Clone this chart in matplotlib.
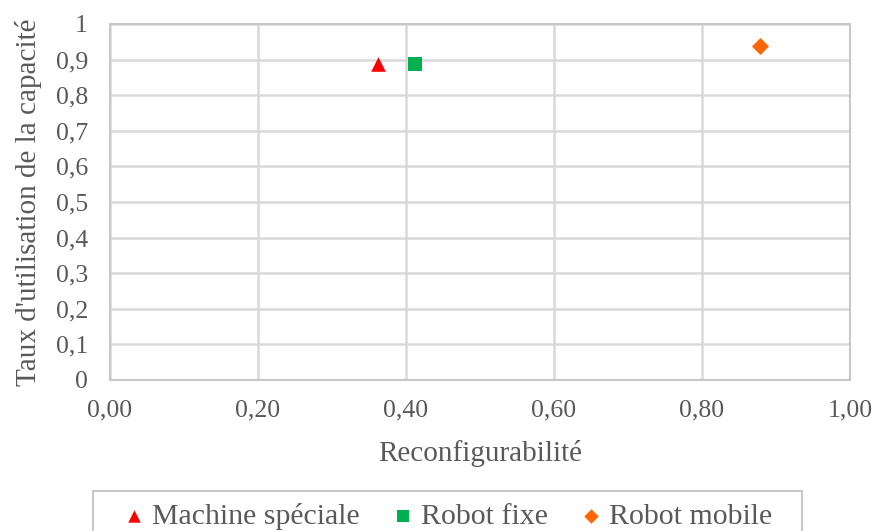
import numpy as np
import matplotlib
matplotlib.use("Agg")
import matplotlib.pyplot as plt
from matplotlib.patches import Rectangle

plt.rcParams["font.family"] = ["Liberation Serif", "DejaVu Serif"]

''' Data '''
series_names = ["Machine spéciale", "Robot fixe", "Robot mobile"]
reconfig = [0.362, 0.412, 0.878]
taux = [0.888, 0.888, 0.938]
colors = ["#ff0000", "#00b050", "#ff6600"]
markers = ["^", "s", "D"]
sizes = [110, 95, 75]

x_ticks = [0.0, 0.2, 0.4, 0.6, 0.8, 1.0]
y_ticks = [0, 0.1, 0.2, 0.3, 0.4, 0.5, 0.6, 0.7, 0.8, 0.9, 1.0]

fig = plt.figure(figsize=(8.75, 5.31), dpi=100)
ax = fig.add_axes([110 / 875, 1 - 380 / 531, 740 / 875, 356 / 531])

for name, x, y, c, m, s in zip(series_names, reconfig, taux, colors, markers, sizes):
    ax.scatter([x], [y], marker=m, s=s, color=c, label=name, zorder=3, linewidths=0)

ax.set_xlim(0, 1)
ax.set_ylim(0, 1)
ax.set_xticks(x_ticks)
ax.set_yticks(y_ticks)
ax.set_xticklabels([f"{v:.2f}".replace(".", ",") for v in x_ticks])
ax.set_yticklabels(["0" if v == 0 else ("1" if v == 1 else f"{v:.1f}".replace(".", ",")) for v in y_ticks])
ax.tick_params(length=0, labelsize=18.5, colors="#595959")
ax.tick_params(axis="y", pad=16)
ax.tick_params(axis="x", pad=14)
ax.grid(True, color="#d9d9d9", linewidth=1.8)
ax.set_axisbelow(True)
for sp in ax.spines.values():
    sp.set_color("#c8c8c8")
    sp.set_linewidth(1.5)

ax.set_xlabel("Reconfigurabilité", fontsize=21, color="#595959", labelpad=13)
ax.set_ylabel("Taux d'utilisation de la capacité", fontsize=21, color="#595959", labelpad=10)

# legend box runs past the bottom edge, as in the source image
fig.add_artist(Rectangle((93 / 875, -0.1), 709 / 875, (531 - 491) / 531 + 0.1,
                         transform=fig.transFigure, fill=False,
                         edgecolor="#c8c8c8", linewidth=1.5))
leg = fig.legend(loc="upper left", bbox_to_anchor=(125 / 875, 1 - 503 / 531),
                 ncol=3, fontsize=21.5, frameon=False, borderpad=0, borderaxespad=0,
                 handlelength=0.6, handletextpad=0.3, columnspacing=1.15,
                 markerscale=0.85, labelcolor="#595959")

fig.savefig("out.png", dpi=100)
